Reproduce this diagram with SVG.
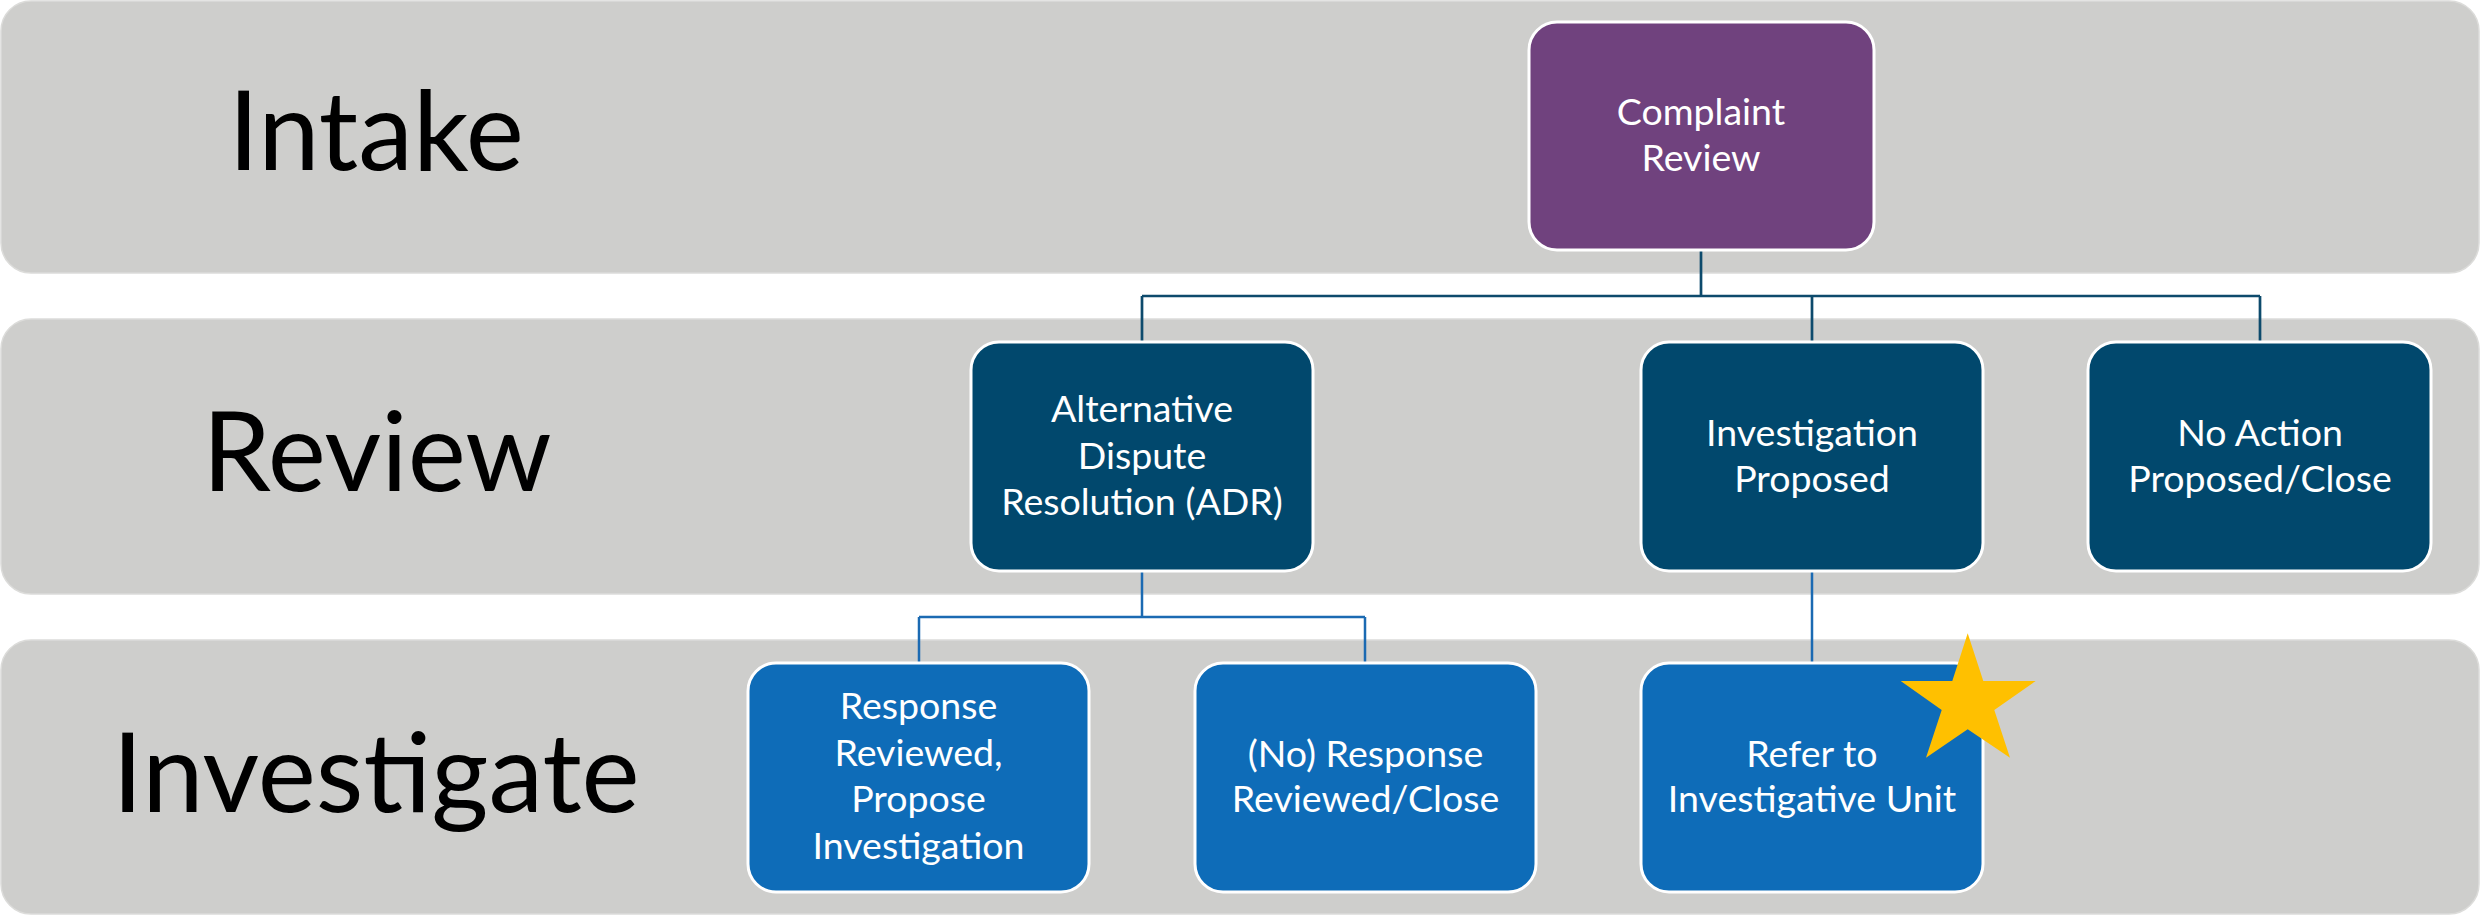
<svg xmlns="http://www.w3.org/2000/svg" width="2481" height="915" viewBox="0 0 2481 915">
<style>
.band{fill:#CECECC;stroke:#DCDCDA;stroke-width:1.5}
.lane{font-family:Lato,"Open Sans",sans-serif;font-size:110px;fill:#000;text-anchor:middle}
.box{stroke:#FFFFFF;stroke-width:3}
.purple{fill:#70427E}
.dark{fill:#01486D}
.mid{fill:#0E6CB8}
.t{font-family:Lato,"Open Sans",sans-serif;font-size:37.5px;fill:#FFFFFF;text-anchor:middle}
.c1{fill:none;stroke:#0D4A6C;stroke-width:2.7}
.c2{fill:none;stroke:#1B6AB2;stroke-width:2.5}
</style>
<g id="lanes">
<rect class="band" x="1" y="1" width="2478" height="272" rx="30"/>
<rect class="band" x="1" y="319" width="2478" height="275" rx="30"/>
<rect class="band" x="1" y="640" width="2478" height="274" rx="30"/>
<text class="lane" x="376" y="170">Intake</text>
<text class="lane" x="377" y="491">Review</text>
<text class="lane" x="376" y="812">Investigate</text>
</g>
<g id="connectors">
<path class="c1" d="M1701 250 V296 M1142 296 H2260 M1142 296 V342 M1812 296 V342 M2260 296 V342"/>
<path class="c2" d="M1142 571 V617 M919 617 H1365 M919 617 V663 M1365 617 V663 M1812 571 V663"/>
</g>
<g id="complaint-review">
<rect class="box purple" x="1529" y="22" width="345" height="228" rx="28"/>
<text class="t" x="1701" y="125">Complaint</text>
<text class="t" x="1701" y="171">Review</text>
</g>
<g id="adr">
<rect class="box dark" x="971" y="342" width="342" height="229" rx="28"/>
<text class="t" x="1142" y="422">Alternative</text>
<text class="t" x="1142" y="468.5">Dispute</text>
<text class="t" x="1142" y="515">Resolution (ADR)</text>
</g>
<g id="investigation-proposed">
<rect class="box dark" x="1641" y="342" width="342" height="229" rx="28"/>
<text class="t" x="1812" y="446">Investigation</text>
<text class="t" x="1812" y="492">Proposed</text>
</g>
<g id="no-action">
<rect class="box dark" x="2088" y="342" width="343" height="229" rx="28"/>
<text class="t" x="2260" y="446">No Action</text>
<text class="t" x="2260" y="492">Proposed/Close</text>
</g>
<g id="response-reviewed">
<rect class="box mid" x="748" y="663" width="341" height="229" rx="28"/>
<text class="t" x="918.5" y="719">Response</text>
<text class="t" x="918.5" y="765.5">Reviewed,</text>
<text class="t" x="918.5" y="812">Propose</text>
<text class="t" x="918.5" y="858.5">Investigation</text>
</g>
<g id="no-response">
<rect class="box mid" x="1195" y="663" width="341" height="229" rx="28"/>
<text class="t" x="1365.5" y="767">(No) Response</text>
<text class="t" x="1365.5" y="812">Reviewed/Close</text>
</g>
<g id="refer">
<rect class="box mid" x="1641" y="663" width="342" height="229" rx="28"/>
<text class="t" x="1812" y="767">Refer to</text>
<text class="t" x="1812" y="812">Investigative Unit</text>
</g>
<g id="star">
<polygon fill="#FFC000" points="1967.7,633.3 1983.3,681 2035.7,681 1994.3,710 2010,757.7 1967.7,729.3 1926,757.7 1941.7,710 1900.7,681 1952.3,681"/>
</g>
</svg>
